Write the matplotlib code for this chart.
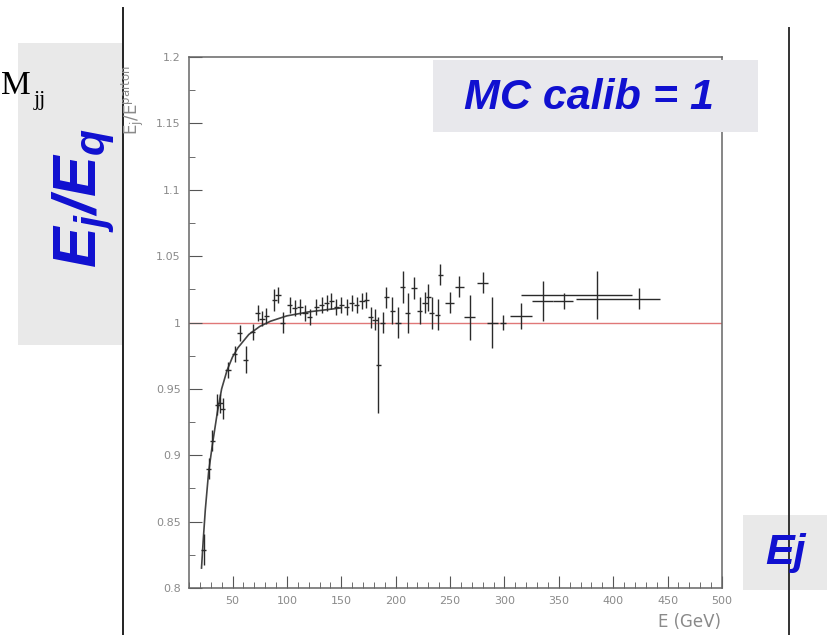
import matplotlib
matplotlib.use("Agg")
import matplotlib.pyplot as plt
from matplotlib.patches import Rectangle
from matplotlib.lines import Line2D
import numpy as np

plt.rcParams['mathtext.fontset'] = 'custom'
plt.rcParams['mathtext.rm'] = 'Liberation Sans:italic:bold'
plt.rcParams['mathtext.it'] = 'Liberation Sans:italic:bold'
plt.rcParams['mathtext.sf'] = 'DejaVu Sans'
plt.rcParams['mathtext.bf'] = 'Liberation Sans:bold'

# ---- data ----
energy = [23.5, 28, 31.5, 36, 38.5, 41, 46, 52, 56.5, 62, 68.5, 73, 77, 81, 88.5, 92, 96,
          102.5, 107, 112, 116.5, 121, 127, 132, 136.5, 141, 145.5, 150, 155, 159.5, 164,
          169, 173, 177, 181, 184, 188, 191.5, 197, 202, 206.5, 211, 217, 222, 227, 230,
          233, 238.5, 241, 249.5, 258.5, 268, 280, 289, 298.5, 315, 335, 355, 385, 424]
ratio = [0.829, 0.890, 0.911, 0.938, 0.939, 0.935, 0.964, 0.976, 0.992, 0.972, 0.993, 1.007,
         1.003, 1.005, 1.017, 1.021, 1.000, 1.013, 1.011, 1.012, 1.007, 1.004, 1.012, 1.013,
         1.015, 1.016, 1.012, 1.013, 1.012, 1.015, 1.013, 1.016, 1.017, 1.004, 1.002, 0.968,
         1.000, 1.019, 1.009, 1.000, 1.027, 1.007, 1.026, 1.009, 1.015, 1.019, 1.007, 1.006,
         1.036, 1.015, 1.027, 1.004, 1.030, 1.000, 1.000, 1.005, 1.016, 1.016, 1.021, 1.018]
ratio_err = [0.012, 0.008, 0.008, 0.008, 0.007, 0.008, 0.006, 0.006, 0.006, 0.010, 0.006,
             0.006, 0.006, 0.006, 0.008, 0.006, 0.008, 0.006, 0.006, 0.006, 0.006, 0.006,
             0.006, 0.006, 0.006, 0.006, 0.006, 0.006, 0.006, 0.006, 0.006, 0.006, 0.006,
             0.008, 0.008, 0.036, 0.008, 0.008, 0.010, 0.012, 0.012, 0.015, 0.008, 0.010,
             0.008, 0.010, 0.012, 0.012, 0.008, 0.008, 0.008, 0.017, 0.008, 0.019, 0.006,
             0.010, 0.015, 0.006, 0.018, 0.008]
e_err_lo = [2.5] * 33 + [2.5, 2.5, 2.5, 2.5, 2.5, 2.5, 2.5, 2.5, 2.5, 2.5, 2.5, 2.5, 2.5,
                          2.5, 2.5, 2.5, 4, 4, 5, 5, 5, 3, 10, 10, 10, 70, 58]
e_err_hi = [2.5] * 33 + [2.5, 2.5, 2.5, 2.5, 2.5, 2.5, 2.5, 2.5, 2.5, 2.5, 2.5, 2.5, 2.5,
                          2.5, 2.5, 2.5, 4, 4, 5, 5, 5, 3, 10, 10, 8, 32, 19]

# fit curve
fit_e = [21.5, 23, 25, 28, 31.5, 36, 40, 45, 50, 55, 65, 75, 85, 100, 120, 140, 150]
fit_r = [0.815, 0.835, 0.859, 0.887, 0.908, 0.932, 0.950, 0.964, 0.974, 0.981, 0.991,
         0.997, 1.001, 1.005, 1.008, 1.010, 1.011]

y_ticks = [0.8, 0.85, 0.9, 0.95, 1.0, 1.05, 1.1, 1.15, 1.2]
y_ticklabels = ['0.8', '0.85', '0.9', '0.95', '1', '1.05', '1.1', '1.15', '1.2']
x_ticks = [50, 100, 150, 200, 250, 300, 350, 400, 450, 500]

W, H = 827, 635
fig = plt.figure(figsize=(W / 100, H / 100), dpi=100)
fig.patch.set_facecolor('white')


def fx(px):
    return px / W


def fy(py):
    return 1 - py / H


ax = fig.add_axes([fx(189), fy(588), fx(722) - fx(189), fy(57) - fy(588)])
ax.set_xlim(10, 500)
ax.set_ylim(0.8, 1.2)

ax.axhline(1.0, color='#e07878', lw=1.0, zorder=1)
ax.plot(fit_e, fit_r, color='#444444', lw=1.2, zorder=2)
ax.errorbar(energy, ratio, yerr=ratio_err, xerr=[e_err_lo, e_err_hi], fmt='none',
            ecolor='#2a2a2a', elinewidth=1.0, capsize=0, zorder=3)

ax.set_yticks(y_ticks)
ax.set_yticklabels(y_ticklabels)
ax.set_yticks(np.arange(0.8, 1.2001, 0.025), minor=True)
ax.set_xticks(x_ticks)
ax.set_xticks(np.arange(10, 501, 10), minor=True)
ax.tick_params(direction='in', which='major', length=9, color='#555555',
               labelsize=8, labelcolor='#8a8a8a', pad=6)
ax.tick_params(direction='in', which='minor', length=4.5, color='#555555')
for s in ax.spines.values():
    s.set_color('#666666')
    s.set_linewidth(1.1)

fig.text(fx(133), fy(100), r'$\mathsf{E_j/E^{parton}}$', rotation=90, ha='center',
         va='center', color='#8a8a8a', fontsize=12)
fig.text(fx(690), fy(622), 'E (GeV)', ha='center', va='center', color='#8a8a8a',
         fontsize=12)

# slide decorations
fig.add_artist(Line2D([fx(123), fx(123)], [fy(8), fy(635)], color='#222222', lw=1.4))
fig.add_artist(Line2D([fx(789), fx(789)], [fy(28), fy(635)], color='#333333', lw=1.4))

fig.add_artist(Rectangle((fx(18), fy(345)), fx(122) - fx(18), fy(43) - fy(345),
                         facecolor='#e9e9e9', edgecolor='none', transform=fig.transFigure))
fig.text(fx(84), fy(198), r'$E_j/E_q$', rotation=90, ha='center', va='center',
         color='#1010d0', fontsize=44)

fig.add_artist(Rectangle((fx(433), fy(132)), fx(758) - fx(433), fy(60) - fy(132),
                         facecolor='#e8e8ec', edgecolor='none', transform=fig.transFigure))
fig.text(fx(589), fy(98), 'MC calib = 1', ha='center', va='center', color='#1010d0',
         fontsize=31, fontweight='bold', style='italic', family='Liberation Sans')

fig.add_artist(Rectangle((fx(743), fy(590)), fx(827) - fx(743), fy(515) - fy(590),
                         facecolor='#e9e9e9', edgecolor='none', transform=fig.transFigure))
fig.text(fx(786), fy(553), 'Ej', ha='center', va='center', color='#1010d0',
         fontsize=31, fontweight='bold', style='italic', family='Liberation Sans')

fig.text(fx(1), fy(86), 'M', ha='left', va='center', color='black', fontsize=24,
         family='Liberation Serif')
fig.text(fx(34), fy(100), 'jj', ha='left', va='center', color='black', fontsize=16,
         family='Liberation Serif')

fig.savefig('out.png', dpi=100, facecolor='white')
